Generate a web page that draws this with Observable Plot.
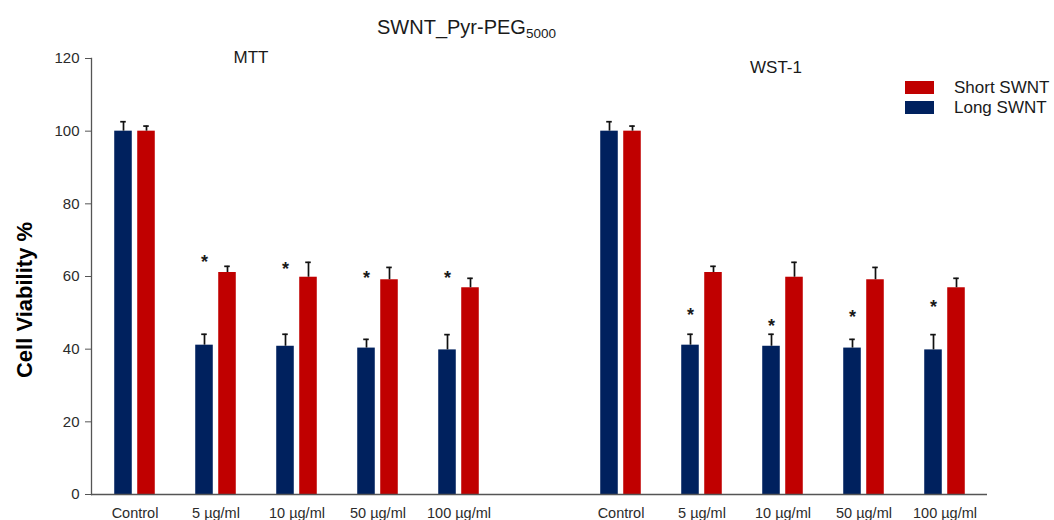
<!DOCTYPE html>
<html>
<head>
<meta charset="utf-8">
<script src="https://cdn.jsdelivr.net/npm/d3@7"></script>
<script src="https://cdn.jsdelivr.net/npm/@observablehq/plot@0.6"></script>
<style>
  body { margin: 0; background: #fff; font-family: "Liberation Sans", Arial, sans-serif; }
  #chart { position: relative; width: 1054px; height: 520px; overflow: hidden; }
  #chart > svg.plot { position: absolute; left: 0; top: 0; }
  #notes { position: absolute; left: 0; top: 0; pointer-events: none; }
  #notes text { font-family: "Liberation Sans", Arial, sans-serif; fill: #1a1a1a; }
</style>
</head>
<body>
<div id="chart"></div>
<script>
// Cell viability (%) after exposure to SWNT_Pyr-PEG5000, two assays
const assays = ["MTT", "WST-1"];
const doses = ["Control", "5 µg/ml", "10 µg/ml", "50 µg/ml", "100 µg/ml"];
const series = ["Short SWNT", "Long SWNT"];

// MTT assay: means and upper error (SD)
const mttLong = [100, 41.1, 40.8, 40.3, 39.8];
const mttLongErr = [2.6, 3.0, 3.3, 2.4, 4.2];
const mttShort = [100, 61.1, 59.8, 59.1, 56.9];
const mttShortErr = [1.4, 1.7, 4.1, 3.4, 2.6];
const mttStar = [null, 65.5, 63.6, 61.2, 61.2];

// WST-1 assay: means and upper error (SD)
const wstLong = [100, 41.1, 40.8, 40.3, 39.8];
const wstLongErr = [2.6, 3.0, 3.3, 2.4, 4.2];
const wstShort = [100, 61.1, 59.8, 59.1, 56.9];
const wstShortErr = [1.4, 1.7, 4.1, 3.4, 2.6];
const wstStar = [null, 50.9, 48.1, 50.4, 53.1];

const yTicks = [0, 20, 40, 60, 80, 100, 120];

const colors = { "Short SWNT": "#c00000", "Long SWNT": "#00215e" };

// Build a tidy table: one row per assay × dose × series
const table = { MTT: [mttLong, mttLongErr, mttShort, mttShortErr, mttStar],
                "WST-1": [wstLong, wstLongErr, wstShort, wstShortErr, wstStar] };
const rows = [];
const stars = [];
for (const a of assays) {
  const [lm, le, sm, se, st] = table[a];
  doses.forEach((d, i) => {
    const key = `${a}|${d}`;
    rows.push({ key, series: "Long SWNT", value: lm[i], err: le[i] });
    rows.push({ key, series: "Short SWNT", value: sm[i], err: se[i] });
    if (st[i] != null) stars.push({ key, level: st[i] });
  });
}
// category slots: MTT doses, an empty spacer, WST-1 doses
const xDomain = [...doses.map(d => `MTT|${d}`), "spacer", ...doses.map(d => `WST-1|${d}`)];

const W = 1054, H = 520;
const mL = 91, mR = 67, mT = 58, mB = 26;
const step = (W - mL - mR) / xDomain.length;
const barW = 18, pairGap = 5;
const shift = (barW + pairGap) / 2;
const barInset = (step - barW) / 2;
const capInset = (step - 6) / 2;
const offset = s => (s === "Long SWNT" ? -shift : shift);

const longRows = rows.filter(r => r.series === "Long SWNT");
const shortRows = rows.filter(r => r.series === "Short SWNT");

function errorMarks(data, dx) {
  return [
    Plot.ruleX(data, { x: "key", y1: "value", y2: d => d.value + d.err, dx, stroke: "#111", strokeWidth: 1.7 }),
    Plot.tickY(data, { x: "key", y: d => d.value + d.err, dx, stroke: "#111", strokeWidth: 1.7, insetLeft: capInset, insetRight: capInset })
  ];
}

const plot = Plot.plot({
  width: W, height: H,
  marginLeft: mL, marginRight: mR, marginTop: mT, marginBottom: mB,
  style: { fontFamily: "Liberation Sans, Arial, sans-serif", color: "#2b2b2b", background: "transparent" },
  x: { type: "band", domain: xDomain, padding: 0, label: null },
  y: { domain: [0, 120], label: null },
  marks: [
    Plot.barY(longRows, { x: "key", y: "value", fill: colors["Long SWNT"], insetLeft: barInset, insetRight: barInset, dx: offset("Long SWNT") }),
    Plot.barY(shortRows, { x: "key", y: "value", fill: colors["Short SWNT"], insetLeft: barInset, insetRight: barInset, dx: offset("Short SWNT") }),
    ...errorMarks(longRows, offset("Long SWNT")),
    ...errorMarks(shortRows, offset("Short SWNT")),
    Plot.text(stars, { x: "key", y: "level", text: () => "*", dx: offset("Long SWNT"), dy: 6, fontSize: 18, fontWeight: "bold", fill: "#1a1a1a" }),
    Plot.axisY({ ticks: yTicks, tickSize: 6, tickPadding: 6, fontSize: 15, stroke: "#555", label: null }),
    Plot.axisX({ tickSize: 0, tickPadding: 13, fontSize: 14.5, label: null, tickFormat: k => (k.includes("|") ? k.split("|")[1] : "") }),
    Plot.frame({ anchor: "left", stroke: "#555", strokeWidth: 1.3 }),
    Plot.ruleY([0], { stroke: "#555", strokeWidth: 1.3 })
  ]
});
document.getElementById("chart").append(plot);

// Title, panel labels, y-axis label and legend
const notes = d3.select("#chart").append("svg")
  .attr("id", "notes").attr("width", W).attr("height", H);

const title = notes.append("text").attr("x", 377).attr("y", 34).attr("font-size", 20);
title.append("tspan").text("SWNT_Pyr-PEG");
title.append("tspan").attr("font-size", 13.5).attr("dy", 4).text("5000");

notes.append("text").attr("x", 251).attr("y", 63).attr("font-size", 17).attr("text-anchor", "middle").text("MTT");
notes.append("text").attr("x", 776).attr("y", 73).attr("font-size", 17).attr("text-anchor", "middle").text("WST-1");

notes.append("text")
  .attr("transform", "translate(32,300) rotate(-90)")
  .attr("text-anchor", "middle").attr("font-size", 22).attr("font-weight", "bold")
  .style("fill", "#000")
  .text("Cell Viability %");

series.forEach((s, i) => {
  const g = notes.append("g").attr("transform", `translate(905,${81 + i * 20})`);
  g.append("rect").attr("width", 29).attr("height", 13).attr("fill", colors[s]);
  g.append("text").attr("x", 49).attr("y", 11.5).attr("font-size", 17).text(s);
});
</script>
</body>
</html>
